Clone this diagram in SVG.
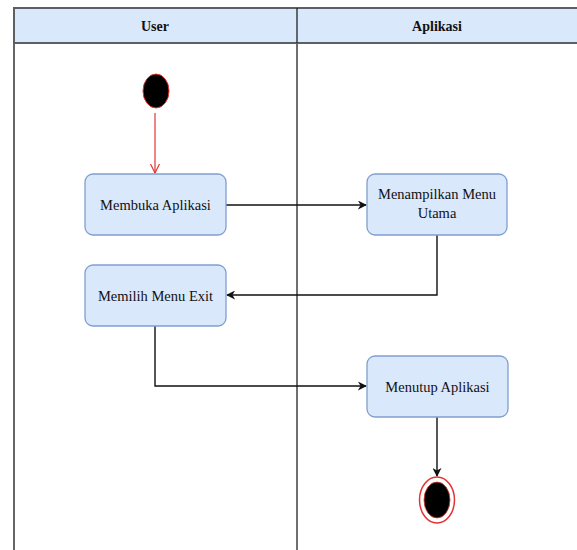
<svg xmlns="http://www.w3.org/2000/svg" width="577" height="550" viewBox="0 0 577 550">
<style>
.lane{fill:none;stroke:#222;stroke-width:1.3}
.hdr{fill:#dae8fc;stroke:#5a6064;stroke-width:2}
.ht{font-family:"Liberation Serif",serif;font-weight:bold;font-size:14px;fill:#111;text-anchor:middle}
.box{fill:#dae8fc;stroke:#7f9fcf;stroke-width:1.3}
.t{font-family:"Liberation Serif",serif;font-size:14.5px;fill:#111;text-anchor:middle}
.c{fill:none;stroke:#111;stroke-width:1.4}
</style>
<defs>
<marker id="ah" viewBox="0 0 10 10" refX="9" refY="5" markerWidth="9" markerHeight="9" markerUnits="userSpaceOnUse" orient="auto"><path d="M0,0 L10,5 L0,10 L3,5 z" fill="#111"/></marker>
<marker id="ao" viewBox="0 0 10 10" refX="9" refY="5" markerWidth="10" markerHeight="10" markerUnits="userSpaceOnUse" orient="auto"><path d="M0,0.5 L9,5 L0,9.5" fill="none" stroke="#e53333" stroke-width="1.2"/></marker>
</defs>
<rect width="577" height="550" fill="#fff"/>
<g id="lanes">
<line x1="14" y1="8" x2="14" y2="550" stroke="#666" stroke-width="2"/>
<line x1="297" y1="43" x2="297" y2="550" class="lane"/>
<rect id="header" x="14" y="8" width="570" height="35" class="hdr"/>
<line x1="297" y1="8" x2="297" y2="43" class="lane"/>
<text x="155" y="31" class="ht">User</text>
<text x="437" y="31" class="ht">Aplikasi</text>
</g>
<g id="connectors">
<line x1="155" y1="113" x2="155" y2="173" fill="none" stroke="#e53333" stroke-width="1.2" marker-end="url(#ao)"/>
<path d="M226,205 H366" class="c" marker-end="url(#ah)"/>
<path d="M437,235 V295 H227" class="c" marker-end="url(#ah)"/>
<path d="M155,326 V386 H366" class="c" marker-end="url(#ah)"/>
<path d="M437,417 V476" class="c" marker-end="url(#ah)"/>
</g>
<g id="start"><ellipse cx="156" cy="91" rx="13" ry="17" fill="#000" stroke="#e53333" stroke-width="1"/></g>
<g id="membuka"><rect x="85" y="174" width="141" height="61" rx="8" class="box"/><text x="155.5" y="210" class="t">Membuka Aplikasi</text></g>
<g id="menampilkan"><rect x="367" y="174" width="140" height="61" rx="8" class="box"/><text x="437" y="199" class="t">Menampilkan Menu</text><text x="437" y="218" class="t">Utama</text></g>
<g id="memilih"><rect x="85" y="265" width="141" height="61" rx="8" class="box"/><text x="155.5" y="301" class="t">Memilih Menu Exit</text></g>
<g id="menutup"><rect x="367" y="356" width="141" height="61" rx="8" class="box"/><text x="437.5" y="392" class="t">Menutup Aplikasi</text></g>
<g id="end"><ellipse cx="437" cy="500" rx="17.5" ry="23" fill="#fff" stroke="#e53333" stroke-width="1.5"/><ellipse cx="437" cy="500" rx="13" ry="18" fill="#000" stroke="#e53333" stroke-width="0.8"/></g>
</svg>
